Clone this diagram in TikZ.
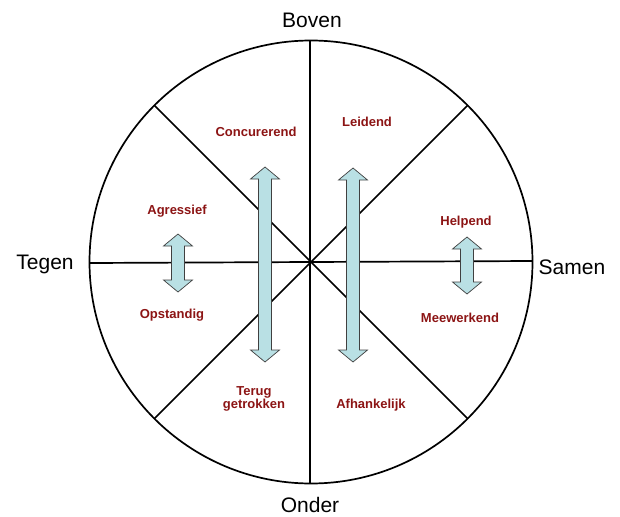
\documentclass[tikz,border=0pt]{standalone}
\usepackage{fontspec}
\setmainfont{Liberation Sans}
\usetikzlibrary{calc}
\definecolor{lblred}{RGB}{140,20,20}
\definecolor{arrfill}{RGB}{185,224,228}
\tikzset{
  spoke/.style={line width=1.7pt, black},
  outer/.style={font=\fontsize{21}{24}\selectfont, text=black, inner sep=0pt},
  lbl/.style={font=\fontsize{13}{15}\selectfont\bfseries, text=lblred, inner sep=0pt, align=center},
  dblarrow/.style={fill=arrfill, draw=black!75, line width=0.7pt, line join=miter}
}
% double arrow: #1 = x center, #2 = top y, #3 = bottom y
\newcommand{\dblarr}[3]{%
  \path[dblarrow] (#1-6.5,#2+12) -- (#1-14.5,#2+12) -- (#1,#2) -- (#1+14.5,#2+12) -- (#1+6.5,#2+12)
   -- (#1+6.5,#3-12) -- (#1+14.5,#3-12) -- (#1,#3) -- (#1-14.5,#3-12) -- (#1-6.5,#3-12) -- cycle;}
\begin{document}
\begin{tikzpicture}[x=1pt,y=-1pt]
\useasboundingbox (0,0) rectangle (620,516);
\coordinate (c) at (311,262);
\draw[spoke] (c) circle[radius=221.5];
\coordinate (t) at (310,41);
\coordinate (b) at (310,484);
\coordinate (l) at (90,263);
\coordinate (r) at (532,261);
\coordinate (ul) at ($(c)+(135:221.5)$);
\coordinate (ur) at ($(c)+(45:221.5)$);
\coordinate (ll) at ($(c)+(-135:221.5)$);
\coordinate (lr) at ($(c)+(-45:221.5)$);
\draw[spoke] (t) -- (b);
\draw[spoke] (l) -- (c) -- (r);
\draw[spoke] (ul) -- (lr);
\draw[spoke] (ur) -- (ll);
\dblarr{265}{167}{362}
\dblarr{353}{168}{362}
\dblarr{178}{234}{292}
\dblarr{467}{237}{294}
\node[outer] (boven) at (312,20) {Boven};
\node[outer] (onder) at (310,505) {Onder};
\node[outer] (tegen) at (45,264) {Tegen};
\node[outer] (samen) at (572,267) {Samen};
\node[lbl] (conc) at (256,132) {Concurerend};
\node[lbl] (leid) at (367,122) {Leidend};
\node[lbl] (aggr) at (177,211) {Agressief};
\node[lbl] (help) at (466,222) {Helpend};
\node[lbl] (opst) at (172,315) {Opstandig};
\node[lbl] (meew) at (460,318) {Meewerkend};
\node[lbl] (terug) at (254,399) {Terug\\[-2pt]getrokken};
\node[lbl] (afh) at (371,405) {Afhankelijk};
\end{tikzpicture}
\end{document}
